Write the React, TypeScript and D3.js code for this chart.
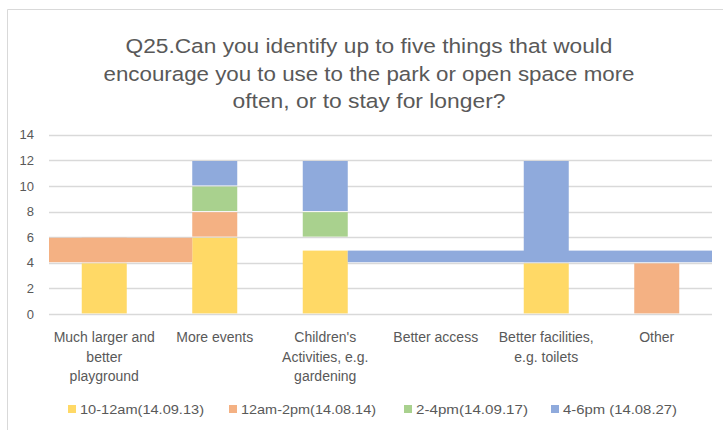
import React, { useEffect, useRef } from "react";
import * as d3 from "d3";

// categories and their wrapped tick labels
const categories = [
  "Much larger and better playground",
  "More events",
  "Children's Activities, e.g. gardening",
  "Better access",
  "Better facilities, e.g. toilets",
  "Other",
];
const tickLines = [
  ["Much larger and", "better", "playground"],
  ["More events"],
  ["Children's", "Activities,  e.g.", "gardening"],
  ["Better access"],
  ["Better facilities,", "e.g. toilets"],
  ["Other"],
];

const seriesNames = [
  "10-12am(14.09.13)",
  "12am-2pm(14.08.14)",
  "2-4pm(14.09.17)",
  "4-6pm (14.08.27)",
];
const seriesColors = ["#FFD966", "#F4B183", "#A9D18E", "#8FAADC"];

const morning = [4, 6, 5, 0, 4, 0];
const blank = [0, 0, 1, 0, 0, 0]; // empty slice left in the Children's column
const midday = [2, 2, 0, 0, 0, 4];
const afternoon = [0, 2, 2, 0, 0, 0];
const evening = [0, 2, 4, 0, 8, 0];

// stray wide bands drawn across the plot in the original
const bandSeries = [1, 3];
const bandLow = [4, 4];
const bandHigh = [6, 5];
const bandFrom = [null, "Children's Activities, e.g. gardening"]; // null = plot start, else after that bar
const bandTo = ["More events", null]; // null = plot end, else before that bar

const yTicks = [0, 2, 4, 6, 8, 10, 12, 14];

const titleLines = [
  "Q25.Can you identify up to five things that would",
  "encourage you to use to the park or open space more",
  "often, or to stay for longer?",
];

const W = 723,
  H = 430;

const App = () => {
  const ref = useRef<SVGSVGElement>(null);

  useEffect(() => {
    const svg = d3.select(ref.current);
    svg.selectAll("*").remove();
    const font = "'Liberation Sans', Arial, sans-serif";
    const grey = "#595959";

    // chart frame
    svg
      .append("path")
      .attr("d", `M7.5,${H} V9.5 H${W}`)
      .attr("fill", "none")
      .attr("stroke", "#d9d9d9");

    const titleW = [487, 531, 273];
    svg
      .append("g")
      .selectAll("text")
      .data(titleLines)
      .join("text")
      .attr("x", 369)
      .attr("y", (_, i) => 53 + i * 27.5)
      .attr("text-anchor", "middle")
      .attr("font-family", font)
      .attr("font-size", 20.5)
      .attr("fill", grey)
      .attr("textLength", (_, i) => titleW[i])
      .attr("lengthAdjust", "spacingAndGlyphs")
      .text((d) => d);

    const x = d3.scaleBand().domain(categories).range([49, 712]).padding(0);
    const y = d3.scaleLinear().domain([0, 14]).range([314, 134.8]);
    const barW = 45;
    const barX = (c: string) => (x(c) as number) + (x.bandwidth() - barW) / 2;

    // gridlines
    svg
      .append("g")
      .selectAll("line")
      .data(yTicks)
      .join("line")
      .attr("x1", 49)
      .attr("x2", 712)
      .attr("y1", (d) => Math.round(y(d)) + 0.5)
      .attr("y2", (d) => Math.round(y(d)) + 0.5)
      .attr("stroke", "#d9d9d9")
      .attr("stroke-width", 1.3);

    svg
      .append("g")
      .selectAll("text")
      .data(yTicks)
      .join("text")
      .attr("x", 34)
      .attr("y", (d) => y(d) + 4.5)
      .attr("text-anchor", "end")
      .attr("font-family", font)
      .attr("font-size", 13)
      .attr("fill", grey)
      .text((d) => d);

    const rows = categories.map((c, i) => ({
      cat: c,
      s0: morning[i],
      gap: blank[i],
      s1: midday[i],
      s2: afternoon[i],
      s3: evening[i],
    }));
    const keys = ["s0", "gap", "s1", "s2", "s3"];
    const stacked = d3.stack<any>().keys(keys)(rows);
    const colorOf: Record<string, string> = {
      s0: seriesColors[0],
      gap: "none",
      s1: seriesColors[1],
      s2: seriesColors[2],
      s3: seriesColors[3],
    };

    const bars = svg.append("g");
    stacked.forEach((layer) => {
      if (layer.key === "gap") return;
      bars
        .append("g")
        .attr("fill", colorOf[layer.key])
        .selectAll("rect")
        .data(layer.filter((d) => d[1] > d[0]))
        .join("rect")
        .attr("x", (d) => barX(d.data.cat))
        .attr("y", (d) => y(d[1]) + 0.6)
        .attr("width", barW)
        .attr("height", (d) => y(d[0]) - y(d[1]) - 1.2);
    });

    bandSeries.forEach((s, i) => {
      const x0 = bandFrom[i] === null ? 49 : barX(bandFrom[i] as string) + barW;
      const x1 = bandTo[i] === null ? 712 : barX(bandTo[i] as string);
      bars
        .append("rect")
        .attr("x", x0)
        .attr("y", y(bandHigh[i]) + 0.6)
        .attr("width", x1 - x0)
        .attr("height", y(bandLow[i]) - y(bandHigh[i]) - 1.2)
        .attr("fill", seriesColors[s]);
    });

    // category labels
    const labels = svg.append("g");
    categories.forEach((c, i) => {
      labels
        .append("g")
        .selectAll("text")
        .data(tickLines[i])
        .join("text")
        .attr("x", (x(c) as number) + x.bandwidth() / 2)
        .attr("y", (_, j) => 342 + j * 19.5)
        .attr("text-anchor", "middle")
        .attr("font-family", font)
        .attr("font-size", 14)
        .attr("fill", grey)
        .text((d) => d);
    });

    // legend
    const legendX = [68, 229, 404, 551];
    const legendW = [124, 135, 112, 114];
    const legend = svg
      .append("g")
      .selectAll("g")
      .data(seriesNames)
      .join("g")
      .attr("transform", (_, i) => `translate(${legendX[i]},405)`);
    legend
      .append("rect")
      .attr("width", 8)
      .attr("height", 8)
      .attr("fill", (_, i) => seriesColors[i]);
    legend
      .append("text")
      .attr("x", 12)
      .attr("y", 8.5)
      .attr("font-family", font)
      .attr("font-size", 13)
      .attr("fill", grey)
      .attr("textLength", (_, i) => legendW[i])
      .attr("lengthAdjust", "spacingAndGlyphs")
      .text((d) => d);
  }, []);

  return (
    <svg
      ref={ref}
      width={W}
      height={H}
      style={{ position: "absolute", left: 0, top: 0, background: "#fff" }}
    />
  );
};

export default App;
